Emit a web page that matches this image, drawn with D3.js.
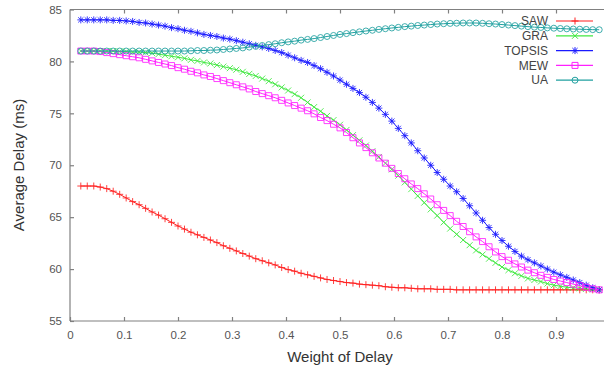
<!DOCTYPE html>
<html><head><meta charset="utf-8">
<script src="https://cdn.jsdelivr.net/npm/d3@7"></script>
<style>body{margin:0;background:#fff}svg{display:block}</style>
</head><body>
<script>
const xs = [0.020,0.032,0.044,0.056,0.068,0.080,0.092,0.104,0.116,0.128,
0.140,0.152,0.164,0.176,0.188,0.200,0.212,0.224,0.236,0.248,
0.260,0.272,0.284,0.296,0.308,0.320,0.332,0.344,0.356,0.368,
0.380,0.392,0.404,0.416,0.428,0.440,0.452,0.464,0.476,0.488,
0.500,0.512,0.524,0.536,0.548,0.560,0.572,0.584,0.596,0.608,
0.620,0.632,0.644,0.656,0.668,0.680,0.692,0.704,0.716,0.728,
0.740,0.752,0.764,0.776,0.788,0.800,0.812,0.824,0.836,0.848,
0.860,0.872,0.884,0.896,0.908,0.920,0.932,0.944,0.956,0.968,0.980];

const saw = [68.0,68.0,68.0,67.9,67.75,67.5,67.2,66.85,66.5,66.2,
65.85,65.5,65.2,64.85,64.5,64.15,63.85,63.55,63.3,63.05,
62.8,62.55,62.25,62.0,61.75,61.5,61.25,61.0,60.8,60.6,
60.4,60.15,59.95,59.8,59.6,59.45,59.3,59.15,59.0,58.9,
58.8,58.7,58.65,58.55,58.5,58.45,58.4,58.3,58.25,58.2,
58.2,58.15,58.1,58.1,58.1,58.05,58.05,58.05,58.0,58.0,
58.0,58.0,58.0,58.0,58.0,58.0,58.0,58.0,58.0,58.0,
58.0,58.0,58.0,58.0,58.0,58.0,58.0,58.0,58.0,58.0,58.0];

const gra = [81.0,81.0,81.0,81.0,81.0,81.0,80.95,80.95,80.9,80.9,
80.85,80.8,80.7,80.6,80.5,80.4,80.3,80.15,80.05,79.9,
79.8,79.65,79.5,79.35,79.2,79.0,78.8,78.6,78.35,78.1,
77.8,77.5,77.2,76.85,76.5,76.05,75.6,75.2,74.75,74.35,
73.9,73.4,72.9,72.4,71.9,71.35,70.8,70.2,69.6,69.0,
68.35,67.7,67.05,66.4,65.75,65.15,64.5,63.9,63.35,62.8,
62.3,61.8,61.4,61.0,60.6,60.2,59.9,59.6,59.35,59.1,
58.95,58.8,58.6,58.45,58.35,58.25,58.2,58.15,58.1,58.05,58.0];

const topsis = [84.0,84.0,84.0,84.0,84.0,83.95,83.95,83.9,83.85,83.75,
83.7,83.6,83.5,83.4,83.25,83.15,83.0,82.9,82.75,82.6,
82.5,82.4,82.25,82.15,82.0,81.85,81.7,81.55,81.4,81.25,
81.05,80.85,80.6,80.35,80.1,79.9,79.6,79.3,78.95,78.6,
78.2,77.8,77.4,77.0,76.55,76.05,75.5,74.9,74.25,73.55,
72.85,72.15,71.4,70.7,70.0,69.3,68.65,68.0,67.45,66.8,
66.1,65.4,64.7,64.0,63.35,62.75,62.2,61.7,61.25,60.9,
60.6,60.3,60.0,59.7,59.45,59.2,58.95,58.7,58.45,58.2,58.0];

const mew = [81.0,81.0,81.0,80.95,80.85,80.75,80.65,80.55,80.45,80.35,
80.2,80.05,79.9,79.75,79.6,79.4,79.25,79.05,78.9,78.7,
78.55,78.35,78.15,77.95,77.75,77.55,77.35,77.1,76.9,76.7,
76.5,76.25,76.0,75.75,75.5,75.25,74.95,74.6,74.3,73.95,
73.6,73.15,72.65,72.15,71.7,71.2,70.7,70.2,69.7,69.2,
68.7,68.2,67.75,67.25,66.75,66.2,65.65,65.15,64.6,64.1,
63.6,63.1,62.65,62.15,61.65,61.2,60.85,60.5,60.2,59.9,
59.65,59.4,59.2,59.0,58.85,58.7,58.55,58.4,58.25,58.1,58.0];

const ua = [81.0,81.0,81.0,81.0,81.0,81.0,81.0,81.0,81.0,81.0,
81.0,81.0,81.0,81.0,81.0,81.0,81.0,81.02,81.05,81.05,
81.08,81.1,81.15,81.2,81.25,81.3,81.38,81.45,81.53,81.62,
81.7,81.8,81.88,81.95,82.05,82.12,82.2,82.3,82.4,82.5,
82.6,82.68,82.77,82.85,82.93,83.0,83.08,83.15,83.22,83.28,
83.35,83.4,83.46,83.5,83.55,83.6,83.63,83.66,83.68,83.7,
83.7,83.7,83.67,83.63,83.6,83.55,83.5,83.45,83.4,83.35,
83.3,83.27,83.23,83.2,83.17,83.14,83.12,83.1,83.08,83.06,83.05];

const seriesNames = ["SAW","GRA","TOPSIS","MEW","UA"];
const xTicks = [0,0.1,0.2,0.3,0.4,0.5,0.6,0.7,0.8,0.9];
const yTicks = [55,60,65,70,75,80,85];

const seriesData = [saw, gra, topsis, mew, ua];
const colors = ["#ff2020","#40e840","#1a1aff","#ff20ff","#20a0a0"];
const markers = ["plus","cross","star","square","circle"];

const W = 604, H = 369;
const svg = d3.select("body").append("svg").attr("width", W).attr("height", H);

const x = d3.scaleLinear().domain([0,1]).range([70,610]);
const y = d3.scaleLinear().domain([55,85]).range([321,9.5]);

const axisColor = "#808080";
const font = "Liberation Sans, Arial, sans-serif";

// frame: left, bottom, top
svg.append("line").attr("x1",70).attr("x2",70).attr("y1",y(85)).attr("y2",y(55)).attr("stroke",axisColor).attr("stroke-width",1.2);
svg.append("line").attr("x1",70).attr("x2",W).attr("y1",y(55)).attr("y2",y(55)).attr("stroke",axisColor).attr("stroke-width",1.2);
svg.append("line").attr("x1",70).attr("x2",W).attr("y1",y(85)).attr("y2",y(85)).attr("stroke",axisColor).attr("stroke-width",1.2);

const gx = svg.append("g").attr("transform",`translate(0,${y(55)})`)
  .call(d3.axisBottom(x).tickValues(xTicks).tickFormat(d3.format("")).tickSizeInner(-4).tickSizeOuter(0).tickPadding(10));
const gxt = svg.append("g").attr("transform",`translate(0,${y(85)})`)
  .call(d3.axisTop(x).tickValues(xTicks.slice(1)).tickFormat("").tickSizeInner(-4).tickSizeOuter(0));
const gy = svg.append("g").attr("transform","translate(70,0)")
  .call(d3.axisLeft(y).tickValues(yTicks).tickSizeInner(-4).tickSizeOuter(0).tickPadding(8));

[gx,gxt,gy].forEach(g=>{
  g.select(".domain").remove();
  g.selectAll(".tick line").attr("stroke",axisColor).attr("stroke-width",1.2);
  g.selectAll("text").attr("fill","#555").style("font-family",font).style("font-size","11.5px");
});

svg.append("text").attr("x",340).attr("y",362).attr("text-anchor","middle")
  .style("font-family",font).style("font-size","15px").attr("fill","#333").text("Weight of Delay");
svg.append("text").attr("transform","translate(24,165) rotate(-90)").attr("text-anchor","middle")
  .style("font-family",font).style("font-size","15px").attr("fill","#333").text("Average Delay (ms)");

function markerPath(type){
  const p = d3.path();
  if(type==="plus"){ p.moveTo(-3.5,0);p.lineTo(3.5,0);p.moveTo(0,-3.5);p.lineTo(0,3.5); }
  else if(type==="cross"){ p.moveTo(-3,-3);p.lineTo(3,3);p.moveTo(-3,3);p.lineTo(3,-3); }
  else if(type==="star"){ p.moveTo(-3.5,0);p.lineTo(3.5,0);p.moveTo(0,-3.5);p.lineTo(0,3.5);p.moveTo(-2.6,-2.6);p.lineTo(2.6,2.6);p.moveTo(-2.6,2.6);p.lineTo(2.6,-2.6); }
  else if(type==="square"){ p.rect(-3,-3,6,6); }
  else if(type==="circle"){ p.moveTo(3,0); p.arc(0,0,3,0,2*Math.PI); }
  return p.toString();
}

const line = d3.line().x(d=>x(d[0])).y(d=>y(d[1]));
const plot = svg.append("g");
seriesData.forEach((vals,i)=>{
  const pts = xs.map((xv,j)=>[xv, vals[j]]);
  const g = plot.append("g");
  g.append("path").attr("d", line(pts)).attr("fill","none").attr("stroke",colors[i]).attr("stroke-width",1);
  g.selectAll("path.m").data(pts).enter().append("path").attr("class","m")
    .attr("transform",d=>`translate(${x(d[0])},${y(d[1])})`)
    .attr("d", markerPath(markers[i])).attr("fill","none").attr("stroke",colors[i]).attr("stroke-width",1).attr("opacity",0.85);
});

// legend
const leg = svg.append("g");
seriesNames.forEach((name,i)=>{
  const ly = 21 + i*14.8;
  leg.append("text").attr("x",548).attr("y",ly).attr("dy","0.35em").attr("text-anchor","end")
    .style("font-family",font).style("font-size","12px").attr("fill","#444").text(name);
  leg.append("line").attr("x1",556).attr("x2",593).attr("y1",ly).attr("y2",ly).attr("stroke",colors[i]).attr("stroke-width",1.2);
  leg.append("path").attr("transform",`translate(575,${ly})`).attr("d",markerPath(markers[i]))
    .attr("fill","none").attr("stroke",colors[i]).attr("stroke-width",1);
});
</script>
</body></html>
